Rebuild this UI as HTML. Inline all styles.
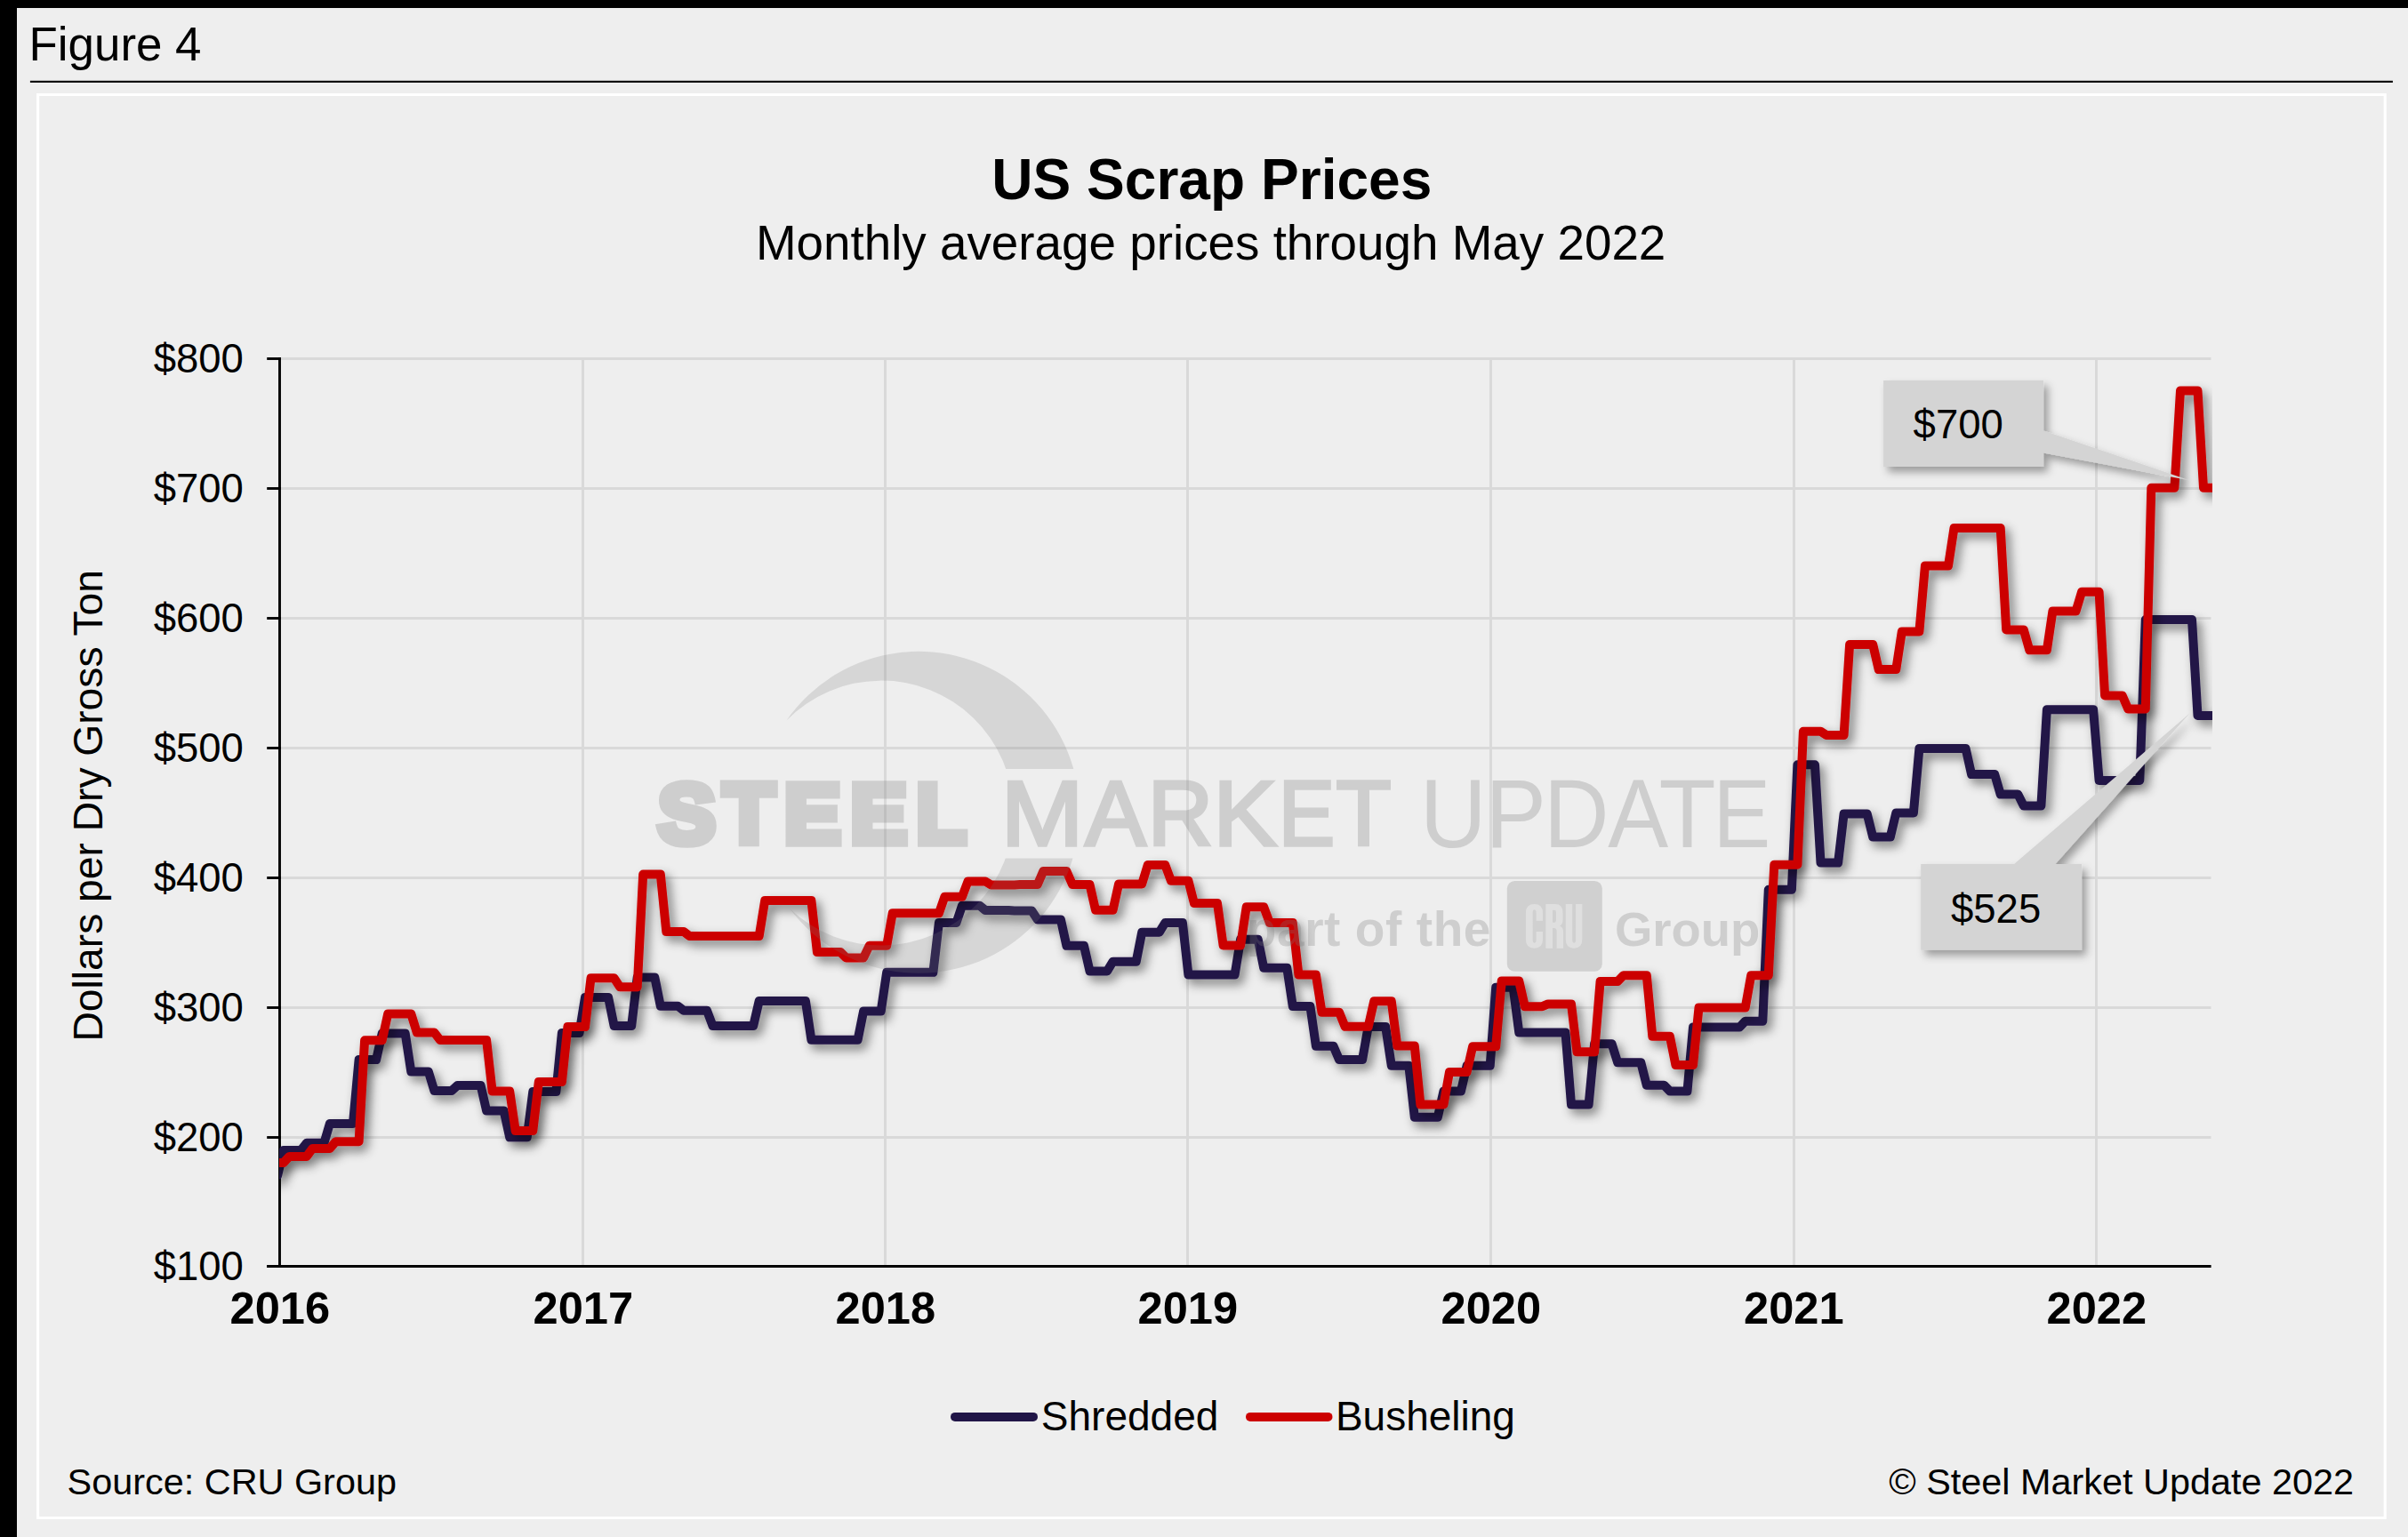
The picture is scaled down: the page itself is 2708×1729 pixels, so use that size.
<!DOCTYPE html>
<html><head><meta charset="utf-8"><style>
html,body{margin:0;padding:0;background:#eeeeee;overflow:hidden;width:2708px;height:1729px;}
svg{display:block;}
text{font-family:"Liberation Sans", sans-serif;}
</style></head><body>
<svg width="2708" height="1729" viewBox="0 0 2708 1729">
<defs>
<filter id="sh" x="-5%" y="-5%" width="110%" height="110%"><feDropShadow dx="5" dy="6" stdDeviation="6" flood-color="#000" flood-opacity="0.48"/></filter>
<filter id="bsh" x="-20%" y="-20%" width="140%" height="150%"><feDropShadow dx="5" dy="6" stdDeviation="5" flood-color="#000" flood-opacity="0.35"/></filter>
<clipPath id="plot"><rect x="314.1" y="380" width="2173.9" height="1060"/></clipPath>
<clipPath id="band"><rect x="700" y="600" width="700" height="265"/><rect x="700" y="965.6" width="700" height="300"/></clipPath>
</defs>
<rect x="0" y="0" width="2708" height="1729" fill="#eeeeee"/>
<rect x="0" y="0" width="2708" height="9" fill="#000"/>
<rect x="0" y="0" width="19" height="1729" fill="#000"/>
<rect x="33.9" y="90.8" width="2657" height="2.1" fill="#000"/>
<rect x="42.6" y="106.5" width="2639.6" height="1601" fill="none" stroke="#fff" stroke-width="3.1"/>
<g stroke="#d9d9d9" stroke-width="3"><line x1="316" y1="1279.5" x2="2486.5" y2="1279.5"/><line x1="316" y1="1133.5" x2="2486.5" y2="1133.5"/><line x1="316" y1="987.5" x2="2486.5" y2="987.5"/><line x1="316" y1="841.5" x2="2486.5" y2="841.5"/><line x1="316" y1="695.5" x2="2486.5" y2="695.5"/><line x1="316" y1="549.5" x2="2486.5" y2="549.5"/><line x1="316" y1="403.5" x2="2486.5" y2="403.5"/><line x1="655.5" y1="402" x2="655.5" y2="1423"/><line x1="995.5" y1="402" x2="995.5" y2="1423"/><line x1="1335.5" y1="402" x2="1335.5" y2="1423"/><line x1="1676.5" y1="402" x2="1676.5" y2="1423"/><line x1="2017.5" y1="402" x2="2017.5" y2="1423"/><line x1="2357.5" y1="402" x2="2357.5" y2="1423"/></g>
<g stroke="#000" stroke-width="2.9">
<line x1="314.5" y1="402" x2="314.5" y2="1425.9"/>
<line x1="300.2" y1="1424.5" x2="2486.6" y2="1424.5"/>
<line x1="300.2" y1="1424.5" x2="315.9" y2="1424.5"/><line x1="300.2" y1="1279.5" x2="315.9" y2="1279.5"/><line x1="300.2" y1="1133.5" x2="315.9" y2="1133.5"/><line x1="300.2" y1="987.5" x2="315.9" y2="987.5"/><line x1="300.2" y1="841.5" x2="315.9" y2="841.5"/><line x1="300.2" y1="695.5" x2="315.9" y2="695.5"/><line x1="300.2" y1="549.5" x2="315.9" y2="549.5"/><line x1="300.2" y1="403.5" x2="315.9" y2="403.5"/>
</g>
<g clip-path="url(#plot)" fill="none" stroke-width="10" stroke-linejoin="round" stroke-linecap="butt">
<path d="M305.7,1322.0 L312.2,1322.0 L318.8,1294.0 L338.3,1294.0 L344.8,1285.8 L364.4,1285.8 L370.9,1263.9 L397.0,1263.9 L403.6,1192.1 L423.1,1192.1 L429.7,1162.5 L455.7,1162.5 L462.3,1205.4 L481.8,1205.4 L488.4,1227.0 L507.9,1227.0 L514.5,1221.0 L540.6,1221.0 L547.1,1249.5 L566.6,1249.5 L573.2,1279.3 L592.7,1279.3 L599.3,1228.0 L625.4,1228.0 L631.9,1162.0 L651.5,1162.0 L658.0,1122.0 L684.1,1122.0 L690.6,1153.9 L710.2,1153.9 L716.7,1099.5 L736.3,1099.5 L742.8,1131.7 L762.4,1131.7 L768.9,1136.7 L795.0,1136.7 L801.5,1153.9 L847.2,1153.9 L853.7,1126.0 L905.9,1126.0 L912.4,1169.7 L964.6,1169.7 L971.1,1137.5 L990.7,1137.5 L997.2,1093.8 L1049.4,1093.8 L1055.9,1038.0 L1075.5,1038.0 L1082.0,1018.7 L1101.6,1018.7 L1108.1,1024.0 L1134.2,1024.0 L1140.7,1024.4 L1160.3,1024.4 L1166.8,1034.4 L1192.9,1034.4 L1199.4,1063.8 L1219.0,1063.8 L1225.5,1092.4 L1245.1,1092.4 L1251.6,1081.7 L1277.7,1081.7 L1284.2,1048.7 L1303.8,1048.7 L1310.3,1038.0 L1329.9,1038.0 L1336.4,1096.4 L1388.6,1096.4 L1395.1,1056.7 L1414.7,1056.7 L1421.2,1088.8 L1447.3,1088.8 L1453.8,1131.9 L1473.4,1131.9 L1479.9,1176.7 L1499.5,1176.7 L1506.0,1192.0 L1532.1,1192.0 L1538.7,1155.0 L1558.2,1155.0 L1564.8,1198.8 L1584.3,1198.8 L1590.8,1256.7 L1616.9,1256.7 L1623.5,1227.4 L1643.0,1227.4 L1649.6,1198.8 L1675.7,1198.8 L1682.2,1110.8 L1701.7,1110.8 L1708.3,1161.6 L1760.5,1161.6 L1767.0,1242.6 L1786.6,1242.6 L1793.1,1174.2 L1812.6,1174.2 L1819.2,1195.3 L1845.3,1195.3 L1851.8,1220.7 L1871.4,1220.7 L1877.9,1227.5 L1897.5,1227.5 L1904.0,1155.6 L1956.2,1155.6 L1962.7,1148.8 L1982.3,1148.8 L1988.8,1000.8 L2014.9,1000.8 L2021.4,860.3 L2041.0,860.3 L2047.5,970.6 L2067.1,970.6 L2073.6,915.4 L2099.7,915.4 L2106.2,941.5 L2125.8,941.5 L2132.3,914.4 L2151.9,914.4 L2158.4,842.0 L2210.6,842.0 L2217.1,871.1 L2243.2,871.1 L2249.7,893.5 L2269.3,893.5 L2275.8,906.5 L2295.4,906.5 L2301.9,798.2 L2354.1,798.2 L2360.6,877.9 L2406.3,877.9 L2412.8,697.0 L2465.0,697.0 L2471.5,804.9 L2491.1,804.9" stroke="#201547" filter="url(#sh)"/>
<path d="M305.7,1308.0 L318.8,1308.0 L325.3,1301.0 L344.8,1301.0 L351.4,1292.0 L370.9,1292.0 L377.5,1284.2 L403.6,1284.2 L410.1,1170.3 L429.7,1170.3 L436.2,1140.6 L462.3,1140.6 L468.8,1161.5 L488.4,1161.5 L494.9,1170.0 L547.1,1170.0 L553.6,1227.4 L573.2,1227.4 L579.7,1272.0 L599.3,1272.0 L605.8,1217.0 L631.9,1217.0 L638.4,1155.1 L658.0,1155.1 L664.5,1100.3 L690.6,1100.3 L697.1,1110.3 L716.7,1110.3 L723.2,983.6 L742.8,983.6 L749.3,1048.0 L768.9,1048.0 L775.4,1053.0 L853.7,1053.0 L860.2,1013.0 L912.4,1013.0 L918.9,1070.9 L945.0,1070.9 L951.5,1077.4 L971.1,1077.4 L977.6,1063.8 L997.2,1063.8 L1003.7,1027.3 L1055.9,1027.3 L1062.4,1008.7 L1082.0,1008.7 L1088.5,991.5 L1108.1,991.5 L1114.6,995.5 L1140.7,995.5 L1147.2,995.1 L1166.8,995.1 L1173.3,980.0 L1199.4,980.0 L1206.0,995.1 L1225.5,995.1 L1232.0,1023.7 L1251.6,1023.7 L1258.1,994.4 L1284.2,994.4 L1290.8,972.9 L1310.3,972.9 L1316.9,990.8 L1336.4,990.8 L1342.9,1016.1 L1369.0,1016.1 L1375.6,1063.4 L1395.1,1063.4 L1401.7,1020.3 L1421.2,1020.3 L1427.8,1038.0 L1453.8,1038.0 L1460.4,1096.4 L1479.9,1096.4 L1486.5,1138.7 L1506.0,1138.7 L1512.6,1154.8 L1538.7,1154.8 L1545.2,1126.3 L1564.8,1126.3 L1571.3,1176.6 L1590.8,1176.6 L1597.4,1242.4 L1623.5,1242.4 L1630.0,1205.9 L1649.6,1205.9 L1656.1,1177.3 L1682.2,1177.3 L1688.7,1103.6 L1708.3,1103.6 L1714.8,1132.2 L1734.4,1132.2 L1740.9,1129.4 L1767.0,1129.4 L1773.5,1183.3 L1793.1,1183.3 L1799.6,1104.0 L1819.2,1104.0 L1825.7,1097.3 L1851.8,1097.3 L1858.3,1165.7 L1877.9,1165.7 L1884.4,1197.9 L1904.0,1197.9 L1910.5,1133.6 L1962.7,1133.6 L1969.2,1097.3 L1988.8,1097.3 L1995.3,972.7 L2021.4,972.7 L2027.9,822.8 L2047.5,822.8 L2054.0,827.0 L2073.6,827.0 L2080.1,725.0 L2106.2,725.0 L2112.7,753.1 L2132.3,753.1 L2138.8,710.4 L2158.4,710.4 L2164.9,636.6 L2191.0,636.6 L2197.5,593.9 L2249.7,593.9 L2256.2,708.4 L2275.8,708.4 L2282.3,731.3 L2301.9,731.3 L2308.4,687.6 L2334.5,687.6 L2341.1,665.8 L2360.6,665.8 L2367.1,782.4 L2386.7,782.4 L2393.2,797.4 L2412.8,797.4 L2419.3,548.8 L2445.4,548.8 L2452.0,439.5 L2471.5,439.5 L2478.0,548.8 L2491.1,548.8" stroke="#cc0000" filter="url(#sh)"/>
</g>

<g opacity="0.20" fill="#7a7a7a"><path d="M884.5,810.4 A181.0,181.0 0 1 1 888.0,1022.1 A148.9,148.9 0 1 0 884.5,810.4 Z" clip-path="url(#band)"/></g>
<g opacity="0.27" fill="#7a7a7a" stroke="#7a7a7a" stroke-linejoin="miter"><text x="0" y="0" transform="translate(740.06 948.15) scale(1.0208 1)" font-size="95" font-weight="bold" stroke-width="9.7">S</text><text x="0" y="0" transform="translate(813.45 948.15) scale(0.9917 1)" font-size="95" font-weight="bold" stroke-width="9.7">T</text><text x="0" y="0" transform="translate(882.09 948.15) scale(1.0016 1)" font-size="95" font-weight="bold" stroke-width="9.7">E</text><text x="0" y="0" transform="translate(956.39 948.15) scale(1.0016 1)" font-size="95" font-weight="bold" stroke-width="9.7">E</text><text x="0" y="0" transform="translate(1030.55 948.15) scale(0.9649 1)" font-size="95" font-weight="bold" stroke-width="9.7">L</text><text x="0" y="0" transform="translate(1125.79 951.30) scale(1.0682 1)" font-size="104.2" font-weight="normal" stroke-width="3.6">M</text><text x="0" y="0" transform="translate(1220.27 951.30) scale(0.9863 1)" font-size="104.2" font-weight="normal" stroke-width="3.6">A</text><text x="0" y="0" transform="translate(1290.82 951.30) scale(0.9745 1)" font-size="104.2" font-weight="normal" stroke-width="3.6">R</text><text x="0" y="0" transform="translate(1364.58 951.30) scale(1.0255 1)" font-size="104.2" font-weight="normal" stroke-width="3.6">K</text><text x="0" y="0" transform="translate(1437.74 951.30) scale(0.9122 1)" font-size="104.2" font-weight="normal" stroke-width="3.6">E</text><text x="0" y="0" transform="translate(1502.57 951.30) scale(0.9757 1)" font-size="104.2" font-weight="normal" stroke-width="3.6">T</text><text x="0" y="0" transform="translate(1596.68 953.20) scale(0.9480 1)" font-size="109.6" font-weight="normal" stroke="none">U</text><text x="0" y="0" transform="translate(1670.25 953.20) scale(0.9394 1)" font-size="109.6" font-weight="normal" stroke="none">P</text><text x="0" y="0" transform="translate(1736.05 953.20) scale(0.9289 1)" font-size="109.6" font-weight="normal" stroke="none">D</text><text x="0" y="0" transform="translate(1808.20 953.20) scale(0.9302 1)" font-size="109.6" font-weight="normal" stroke="none">A</text><text x="0" y="0" transform="translate(1865.44 953.20) scale(0.9585 1)" font-size="109.6" font-weight="normal" stroke="none">T</text><text x="0" y="0" transform="translate(1926.54 953.20) scale(0.8855 1)" font-size="109.6" font-weight="normal" stroke="none">E</text>
<text x="1401.8" y="1064" font-size="55" font-weight="bold" stroke="none" textLength="274.6" lengthAdjust="spacing">part of the</text>
<text x="1815.9" y="1064" font-size="54.5" font-weight="bold" stroke="none">Group</text>
</g>
<g>
<rect x="1694.8" y="991" width="107" height="101.8" rx="8.6" fill="#d0d0d0"/>
<path fill="#dfdfdf" fill-rule="evenodd" d="M1715.9,1027 Q1715.9,1017.1 1725.5,1017.1 Q1735,1017.1 1735,1027 V1035.8 H1727.6 V1027 Q1727.6,1023.3 1725.6,1023.3 Q1723.7,1023.3 1723.7,1027 V1057 Q1723.7,1060.8 1725.6,1060.8 Q1727.6,1060.8 1727.6,1057 V1047.9 H1735 V1057 Q1735,1066.7 1725.5,1066.7 Q1715.9,1066.7 1715.9,1057 Z
M1738.4,1017.1 H1749 Q1757.5,1017.1 1757.5,1027 V1035 Q1757.5,1040 1754,1041.5 Q1758.1,1043 1758.1,1048 V1066.7 H1750.6 V1048 Q1750.6,1044 1748,1044 H1746 V1066.7 H1738.4 Z
M1746,1023.7 H1748 Q1749.9,1023.7 1749.9,1026 V1035.5 Q1749.9,1037.8 1748,1037.8 H1746 Z
M1760.8,1017.1 H1768.2 V1057 Q1768.2,1060.8 1770.15,1060.8 Q1772.1,1060.8 1772.1,1057 V1017.1 H1779.3 V1057 Q1779.3,1066.7 1770,1066.7 Q1760.8,1066.7 1760.8,1057 Z"/>
</g>
<g fill="#d4d4d4" filter="url(#bsh)">
<path d="M2118.1,427.9 H2298.1 V484.4 L2462,540.3 L2298.1,509.6 V524.9 H2118.1 Z"/>
<path d="M2160.2,972 H2265 L2462.7,802.2 L2311.4,972 H2341.1 V1068.8 H2160.2 Z"/>
</g>
<g stroke-width="10" stroke-linecap="round">
<line x1="1074" y1="1593.9" x2="1162" y2="1593.9" stroke="#201547"/>
<line x1="1406" y1="1593.9" x2="1493.5" y2="1593.9" stroke="#cc0000"/>
</g>
<text x="32.5" y="0" transform="translate(0 68.1) scale(1 1.0)" font-weight="normal" font-size="52.9" fill="#000">Figure 4</text><text x="1115.2" y="0" transform="translate(0 224.0) scale(1 1.0)" font-weight="bold" font-size="64.1" fill="#000">US Scrap Prices</text><text x="849.9" y="0" transform="translate(0 291.9) scale(1 1.0)" font-weight="normal" font-size="54.8" fill="#000">Monthly average prices through May 2022</text><text x="172.7" y="0" transform="translate(0 1439.8) scale(1 1.02)" font-weight="normal" font-size="45.5" fill="#000">$100</text><text x="172.7" y="0" transform="translate(0 1294.8) scale(1 1.02)" font-weight="normal" font-size="45.5" fill="#000">$200</text><text x="172.7" y="0" transform="translate(0 1148.8) scale(1 1.02)" font-weight="normal" font-size="45.5" fill="#000">$300</text><text x="172.7" y="0" transform="translate(0 1002.8) scale(1 1.02)" font-weight="normal" font-size="45.5" fill="#000">$400</text><text x="172.7" y="0" transform="translate(0 856.8) scale(1 1.02)" font-weight="normal" font-size="45.5" fill="#000">$500</text><text x="172.7" y="0" transform="translate(0 710.8) scale(1 1.02)" font-weight="normal" font-size="45.5" fill="#000">$600</text><text x="172.7" y="0" transform="translate(0 564.8) scale(1 1.02)" font-weight="normal" font-size="45.5" fill="#000">$700</text><text x="172.7" y="0" transform="translate(0 418.8) scale(1 1.02)" font-weight="normal" font-size="45.5" fill="#000">$800</text><text x="258.5" y="0" transform="translate(0 1489.0) scale(1 1.0)" font-weight="bold" font-size="50.6" fill="#000">2016</text><text x="599.5" y="0" transform="translate(0 1489.0) scale(1 1.0)" font-weight="bold" font-size="50.6" fill="#000">2017</text><text x="939.5" y="0" transform="translate(0 1489.0) scale(1 1.0)" font-weight="bold" font-size="50.6" fill="#000">2018</text><text x="1279.5" y="0" transform="translate(0 1489.0) scale(1 1.0)" font-weight="bold" font-size="50.6" fill="#000">2019</text><text x="1620.5" y="0" transform="translate(0 1489.0) scale(1 1.0)" font-weight="bold" font-size="50.6" fill="#000">2020</text><text x="1961.0" y="0" transform="translate(0 1489.0) scale(1 1.0)" font-weight="bold" font-size="50.6" fill="#000">2021</text><text x="2301.5" y="0" transform="translate(0 1489.0) scale(1 1.0)" font-weight="bold" font-size="50.6" fill="#000">2022</text><text x="1170.8" y="0" transform="translate(0 1609.2) scale(1 1.0)" font-weight="normal" font-size="46" fill="#000">Shredded</text><text x="1501.9" y="0" transform="translate(0 1609.2) scale(1 1.0)" font-weight="normal" font-size="46" fill="#000">Busheling</text><text x="75.6" y="0" transform="translate(0 1680.8) scale(1 1.0)" font-weight="normal" font-size="41.4" fill="#000">Source: CRU Group</text><text x="2124.2" y="0" transform="translate(0 1681.0) scale(1 1.0)" font-weight="normal" font-size="41.4" fill="#000">© Steel Market Update 2022</text><text x="2151.6" y="0" transform="translate(0 493.4) scale(1 1.02)" font-weight="normal" font-size="45.5" fill="#000">$700</text><text x="2194.0" y="0" transform="translate(0 1037.8) scale(1 1.02)" font-weight="normal" font-size="45.5" fill="#000">$525</text><text x="-266.0" y="0" transform="translate(114.8 905.5) rotate(-90)" font-size="46.2" fill="#000">Dollars per Dry Gross Ton</text>
</svg>
</body></html>
